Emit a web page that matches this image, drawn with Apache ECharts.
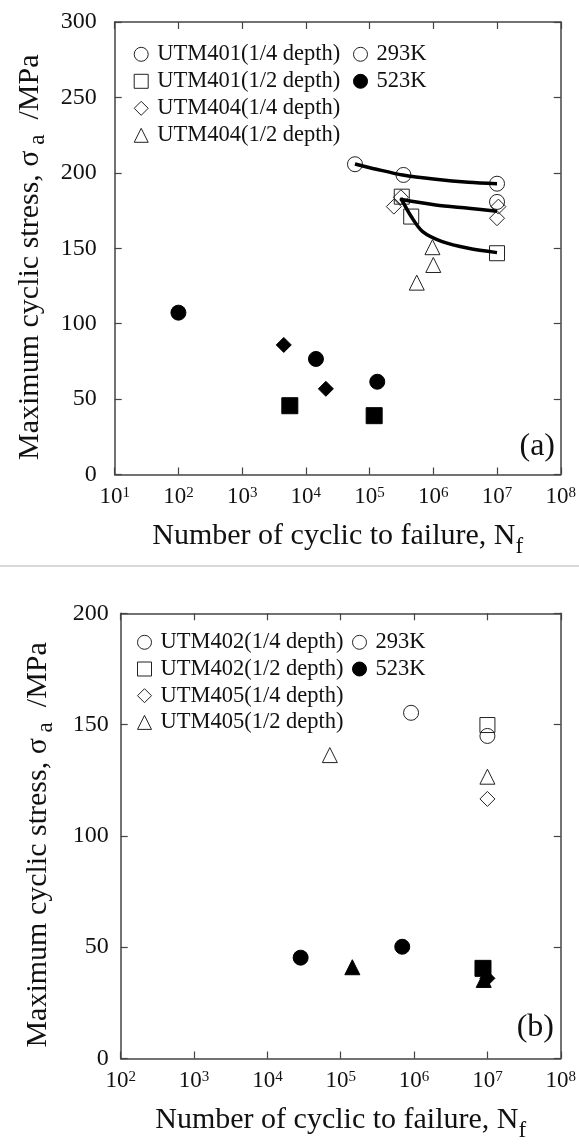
<!DOCTYPE html>
<html>
<head>
<meta charset="utf-8">
<title>S-N curves</title>
<script src="https://cdn.jsdelivr.net/npm/echarts@6/dist/echarts.min.js"></script>
<style>
    html, body { margin: 0; padding: 0; background: #fff; }
    #chart { width: 579px; height: 1144px; }
</style>
</head>
<body>
<div id="chart"></div>
<script>
    // ---- panel (a): UTM401 / UTM404  [Nf, stress MPa]
    var a401q = [[5.9e4, 205.7], [3.4e5, 198.6], [1e7, 192.8], [1e7, 180.7]];   // 1/4 depth, 293K
    var a401h = [[3.2e5, 184.2], [4.5e5, 171.0], [1e7, 146.7]];                 // 1/2 depth, 293K
    var a404q = [[2.4e5, 177.6], [3.1e5, 183.8], [1.05e7, 177.6], [1e7, 169.9]]; // 1/4 depth, 293K
    var a404h = [[9.7e5, 150.7], [1e6, 138.9], [5.5e5, 127.2]];                 // 1/2 depth, 293K
    var a401qHot = [[100, 107.3], [1.44e4, 76.6], [1.32e5, 61.5]];
    var a404qHot = [[4.5e3, 85.9], [2.06e4, 56.8]];
    var a401hHot = [[5.6e3, 45.6], [1.18e5, 39.0]];
    // fitted curves
    var fitA1 = [[5.9e4, 205.9], [1.28e5, 202.4], [3.3e5, 198.6], [1.09e6, 195.8], [3.56e6, 193.8], [1e7, 192.8]];
    var fitA2 = [[3.0e5, 182.5], [1.09e6, 178.7], [3.56e6, 176.5], [1e7, 174.5]];
    var fitA3 = [[3.1e5, 183.2], [4.5e5, 171.0], [6.8e5, 161.0], [1.38e6, 154.4], [3.56e6, 150.0], [1e7, 147.1]];

    // ---- panel (b): UTM402 / UTM405
    var b402q = [[9.1e5, 155.3], [1e7, 144.9]];
    var b402h = [[1e7, 149.8]];
    var b405q = [[1e7, 116.6]];
    var b405h = [[7.1e4, 136.3], [1e7, 126.6]];
    var b402qHot = [[2.84e4, 45.3], [6.9e5, 50.2]];
    var b402hHot = [[8.7e6, 40.5]];
    var b405qHot = [[1e7, 36.0]];
    var b405hHot = [[1.44e5, 41.0], [8.9e6, 35.3]];

    var legA = ['UTM401(1/4 depth)', 'UTM401(1/2 depth)', 'UTM404(1/4 depth)', 'UTM404(1/2 depth)'];
    var legB = ['UTM402(1/4 depth)', 'UTM402(1/2 depth)', 'UTM405(1/4 depth)', 'UTM405(1/2 depth)'];
    var legT = ['293K', '523K'];
    var icons = ['circle', 'rect', 'diamond', 'triangle'];

    var serif = '"Liberation Serif", "Times New Roman", serif';
    var ink = '#111';
    var axisCol = '#444';

    var myChart = echarts.init(document.getElementById('chart'));

    function pts(name, data, sym, filled, idx) {
        return {
            name: name, type: 'scatter', data: data,
            xAxisIndex: idx, yAxisIndex: idx,
            symbol: sym, symbolSize: filled && sym === 'rect' ? 16 : 15,
            itemStyle: {
                color: filled ? '#000' : 'rgba(0,0,0,0)',
                borderColor: filled ? '#000' : '#222',
                borderWidth: 1,
                opacity: 1
            },
            emphasis: { disabled: true }
        };
    }
    function fit(data) {
        return {
            type: 'line', data: data, xAxisIndex: 0, yAxisIndex: 0,
            showSymbol: false, smooth: 0.3, silent: true, z: 3,
            lineStyle: { color: '#000', width: 3.5 }
        };
    }
    function xAx(grid, min, pos) {
        var main = pos === 'bottom';
        return {
            type: 'log', logBase: 10, gridIndex: grid, position: pos,
            min: min, max: 1e8,
            name: main ? '{m|Number of cyclic to failure, N}{s|f}' : '',
            nameLocation: 'middle', nameGap: 47,
            nameTextStyle: {
                rich: {
                    m: { fontFamily: serif, fontSize: 30, lineHeight: 32, color: ink, verticalAlign: 'top' },
                    s: { fontFamily: serif, fontSize: 23, lineHeight: 32, color: ink, verticalAlign: 'top', padding: [14, 0, 0, 0] }
                }
            },
            axisLine: { show: true, onZero: false, lineStyle: { color: axisCol, width: 1.5 } },
            axisTick: { show: true, inside: true, length: 7, lineStyle: { color: axisCol, width: 1.2 } },
            minorTick: { show: false },
            splitLine: { show: false },
            axisLabel: {
                show: main, margin: 11,
                formatter: function (v) { return '{b|10}{e|' + Math.round(Math.log10(v)) + '}'; },
                rich: {
                    b: { fontFamily: serif, fontSize: 23, color: ink },
                    e: { fontFamily: serif, fontSize: 15, color: ink, verticalAlign: 'top' }
                }
            }
        };
    }
    function yAx(grid, max, pos) {
        var main = pos === 'left';
        return {
            type: 'value', gridIndex: grid, position: pos,
            min: 0, max: max, interval: 50,
            name: main ? '{m|Maximum cyclic stress, σ}{s| a}{m|  /MPa}' : '',
            nameLocation: 'middle', nameRotate: 90, nameGap: 66,
            nameTextStyle: {
                padding: [0, 18, 0, 0],
                rich: {
                    m: { fontFamily: serif, fontSize: 30, lineHeight: 32, color: ink, verticalAlign: 'top' },
                    s: { fontFamily: serif, fontSize: 23, lineHeight: 32, color: ink, verticalAlign: 'top', padding: [12, 0, 0, 0] }
                }
            },
            axisLine: { show: true, onZero: false, lineStyle: { color: axisCol, width: 1.5 } },
            axisTick: { show: true, inside: true, length: 7, lineStyle: { color: axisCol, width: 1.2 } },
            splitLine: { show: false },
            axisLabel: { show: main, margin: main && grid === 0 ? 18 : 12, fontFamily: serif, fontSize: 24, color: ink }
        };
    }
    function leg(names, withIcons, left, top, gap) {
        return {
            orient: 'vertical', left: left, top: top, itemGap: gap,
            itemWidth: 14, itemHeight: 14, selectedMode: false,
            itemStyle: { borderWidth: 1 },
            textStyle: { fontFamily: serif, fontSize: 22.5, lineHeight: 23, color: ink, padding: [0, 0, 0, 4] },
            data: names.map(function (n, i) { return { name: n, icon: withIcons ? icons[i] : 'circle' }; })
        };
    }

    var option = {
        backgroundColor: '#fff',
        animation: false,
        grid: [
            { left: 114.7, top: 22, width: 452.3, height: 452.5 },
            { left: 120.7, top: 613.3, width: 445.3, height: 445.2 }
        ],
        xAxis: [xAx(0, 10, 'bottom'), xAx(0, 10, 'top'), xAx(1, 100, 'bottom'), xAx(1, 100, 'top')],
        yAxis: [yAx(0, 300, 'left'), yAx(0, 300, 'right'), yAx(1, 200, 'left'), yAx(1, 200, 'right')],
        legend: [
            leg(legA, true, 128.7, 37.8, 4),
            leg(legT, false, 348, 37.8, 4),
            leg(legB, true, 132, 625.8, 3.7),
            leg(legT, false, 347, 625.8, 3.7)
        ],
        series: [
            pts(legA[0], a401q, 'circle', false, 0),
            pts(legA[1], a401h, 'rect', false, 0),
            pts(legA[2], a404q, 'diamond', false, 0),
            pts(legA[3], a404h, 'triangle', false, 0),
            pts('293K', [], 'circle', false, 0),
            pts('523K', [], 'circle', true, 0),
            pts('UTM401(1/4 depth) 523K', a401qHot, 'circle', true, 0),
            pts('UTM404(1/4 depth) 523K', a404qHot, 'diamond', true, 0),
            pts('UTM401(1/2 depth) 523K', a401hHot, 'rect', true, 0),
            fit(fitA1), fit(fitA2), fit(fitA3),
            pts(legB[0], b402q, 'circle', false, 2),
            pts(legB[1], b402h, 'rect', false, 2),
            pts(legB[2], b405q, 'diamond', false, 2),
            pts(legB[3], b405h, 'triangle', false, 2),
            pts('UTM402(1/4 depth) 523K', b402qHot, 'circle', true, 2),
            pts('UTM402(1/2 depth) 523K', b402hHot, 'rect', true, 2),
            pts('UTM405(1/4 depth) 523K', b405qHot, 'diamond', true, 2),
            pts('UTM405(1/2 depth) 523K', b405hHot, 'triangle', true, 2)
        ],
        graphic: [
            { type: 'text', x: 555, y: 447, style: { text: '(a)', font: '32px ' + serif, fill: ink, align: 'right', verticalAlign: 'middle' } },
            { type: 'text', x: 554, y: 1028, style: { text: '(b)', font: '32px ' + serif, fill: ink, align: 'right', verticalAlign: 'middle' } },
            { type: 'line', shape: { x1: 0, y1: 566, x2: 579, y2: 566 }, style: { stroke: '#ccc', lineWidth: 1.5 } }
        ]
    };
    myChart.setOption(option);
</script>
</body>
</html>
